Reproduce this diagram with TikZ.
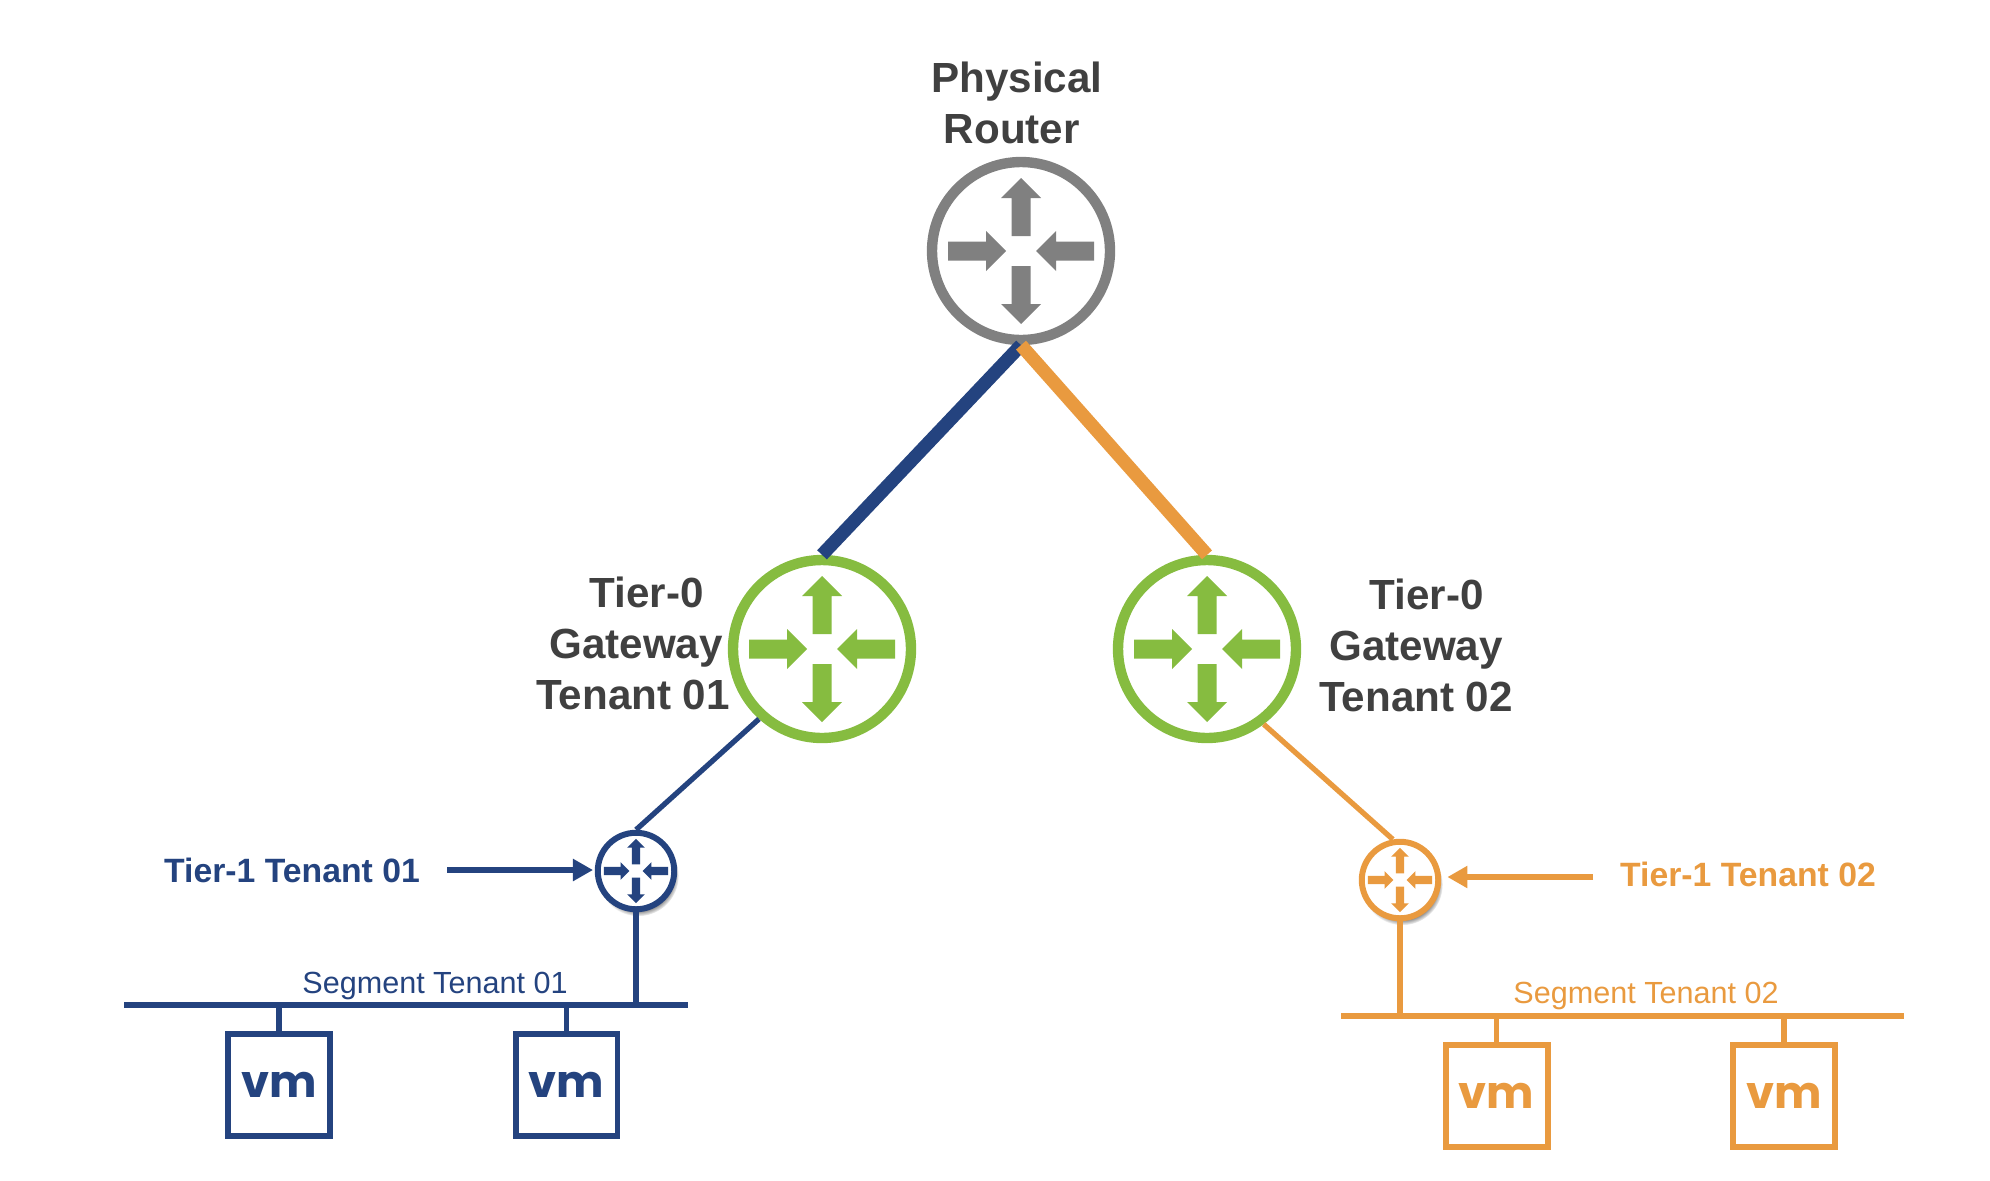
\documentclass[tikz,border=0pt]{standalone}
\usepackage{fontspec}
\setmainfont{Liberation Sans}
\newfontfamily\vmfont{Poppins}
\usetikzlibrary{arrows.meta,shadows}
\definecolor{tenantblue}{HTML}{24437F}
\definecolor{tenantorange}{HTML}{E99A3F}
\definecolor{gatewaygreen}{HTML}{86BC40}
\definecolor{routergray}{HTML}{808080}
\definecolor{labelgray}{HTML}{404040}
\def\bigRouters{{(1021,251)/phys/routergray}, {(822,649)/gwa/gatewaygreen}, {(1207,649)/gwb/gatewaygreen}}
\def\smallRouters{{(636,871)/ta/tenantblue}, {(1400,880)/tb/tenantorange}}
\def\vmBoxes{{(279,1085)/vma/tenantblue/busaL}, {(566.5,1085)/vmb/tenantblue/busaL}, {(1496.5,1096)/vmc/tenantorange/busbL}, {(1784,1096)/vmd/tenantorange/busbL}}
\tikzstyle{big router}=[circle,draw,fill=white,line width=5.9pt,minimum size=3.56cm,inner sep=0pt]
\tikzstyle{small router}=[circle,draw,fill=white,line width=3.4pt,minimum size=1.53cm,inner sep=0pt,circular drop shadow={shadow xshift=1.2pt,shadow yshift=-2.5pt,shadow scale=1.06}]
\tikzstyle{vm box}=[draw,line width=3.4pt,minimum width=2.04cm,minimum height=2.04cm,inner sep=0pt,font=\vmfont\bfseries\fontsize{25.5}{25.5}\selectfont]
\tikzstyle{heading}=[text=labelgray,align=center,font=\bfseries\fontsize{24}{29}\selectfont]
\tikzstyle{tier label}=[font=\bfseries\fontsize{19.2}{22}\selectfont]
\tikzstyle{segment label}=[anchor=base,font=\fontsize{17.4}{20}\selectfont]
\tikzstyle{thick link}=[draw,line width=7.6pt,-]
\tikzstyle{thin link}=[draw,line width=3pt,-]
\tikzstyle{wire}=[draw,line width=3.3pt,-]
\tikzstyle{pointer}=[draw,line width=3.8pt,-{Triangle[length=11.4pt,width=12pt]}]
% the four arrows inside a router: centre, colour, scale
\newcommand{\routerArrows}[3]{
  \begin{scope}[shift={(#1)},scale=#3]
    \foreach \turn in {0,180} {
      \fill[#2,rotate=\turn] (-9.5,-15) -- (-9.5,-53) -- (-20,-53) -- (0,-73) -- (20,-53) -- (9.5,-53) -- (9.5,-15) -- cycle;
    }
    \foreach \turn in {90,-90} {
      \fill[#2,rotate=\turn] (-9.5,-73) -- (-9.5,-35) -- (-20,-35) -- (0,-15) -- (20,-35) -- (9.5,-35) -- (9.5,-73) -- cycle;
    }
  \end{scope}
}

\begin{document}
\begin{tikzpicture}[x=0.02cm,y=-0.02cm]
  \useasboundingbox (0,0) rectangle (1990,1180);

  % The routers
  \foreach \pos/\name/\tint in \bigRouters {
    \node[big router,draw=\tint] (\name) at \pos {};
    \routerArrows{\name}{\tint}{1}
    }
  \foreach \pos/\name/\tint in \smallRouters {
    \node[small router,draw=\tint] (\name) at \pos {};
    \routerArrows{\name}{\tint}{0.44}
    }

  % The labels
  \node[heading] (physlabel) at (1017,103) {Physical\\Router\hspace*{0.25em}};
  \node[heading] (gwalabel) at (633,643) {\hspace*{0.65em}Tier-0\\\hspace*{0.15em}Gateway\\Tenant 01};
  \node[heading] (gwblabel) at (1416,645) {\hspace*{0.5em}Tier-0\\Gateway\\Tenant 02};
  \node[tier label,text=tenantblue] (talabel) at (292,870) {Tier-1 Tenant 01};
  \node[tier label,text=tenantorange] (tblabel) at (1748,874) {Tier-1 Tenant 02};
  \node[segment label,text=tenantblue] (segalabel) at (435,993) {Segment Tenant 01};
  \node[segment label,text=tenantorange] (segblabel) at (1646,1003) {Segment Tenant 02};

  % The segments
  \coordinate (busaL) at (124,1005);
  \coordinate (busaR) at (688,1005);
  \coordinate (busbL) at (1341,1016);
  \coordinate (busbR) at (1904,1016);
  \path[wire,tenantblue] (busaL) -- (busaR);
  \path[wire,tenantorange] (busbL) -- (busbR);

  % The vm boxes and their stems
  \foreach \pos/\name/\tint/\bus in \vmBoxes {
    \node[vm box,draw=\tint,text=\tint] (\name) at \pos {vm};
    \path[wire,\tint] (\name.north) -- (\name.north |- \bus);
    }

  % All the links
  \path[thick link,tenantblue] (phys.south) -- (gwa.north);
  \path[thick link,tenantorange] (phys.south) -- (gwb.north);
  \path[thin link,tenantblue] (gwa.-132) -- (ta.north);
  \path[thin link,tenantorange] (gwb.-53) -- (tb.100);
  \path[wire,tenantblue] (ta.south) -- (ta.south |- busaL);
  \path[wire,tenantorange] (tb.south) -- (tb.south |- busbL);

  % The pointers from the tier labels
  \coordinate (tastart) at (447,870);
  \coordinate (tbstart) at (1593,877);
  \path[pointer,tenantblue,shorten >=1pt] (tastart) -- (tastart -| ta.west);
  \path[pointer,tenantorange,shorten >=3.5pt] (tbstart) -- (tbstart -| tb.east);
\end{tikzpicture}
\end{document}
